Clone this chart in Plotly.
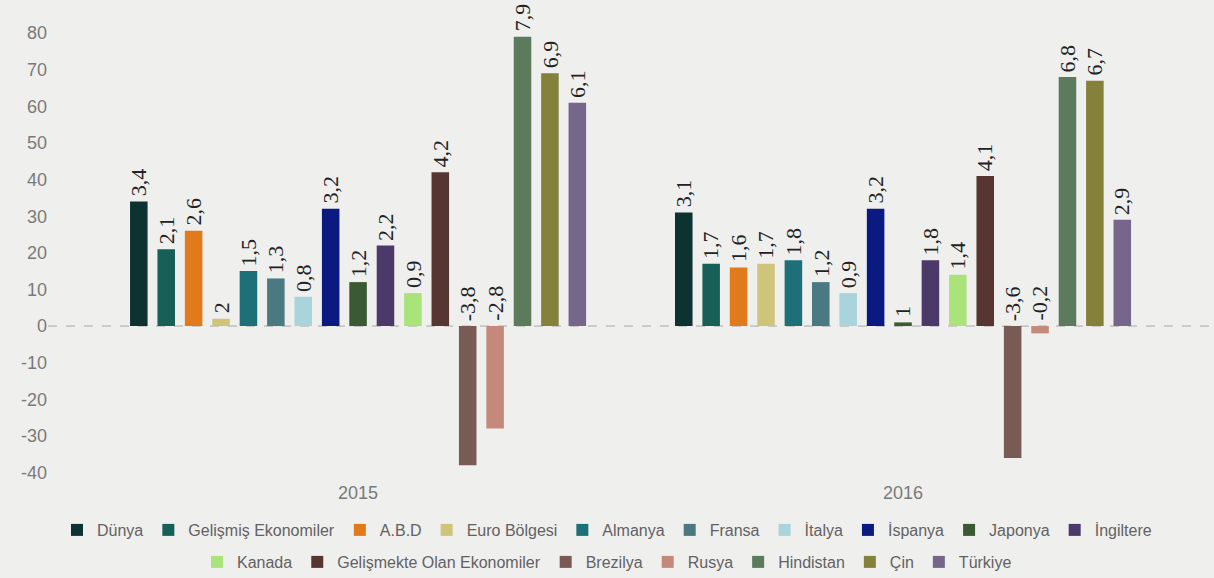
import plotly.graph_objects as go

years = ["2015", "2016"]
series = ["Dünya", "Gelişmiş Ekonomiler", "A.B.D", "Euro Bölgesi", "Almanya", "Fransa",
          "İtalya", "İspanya", "Japonya", "İngiltere", "Kanada", "Gelişmekte Olan Ekonomiler",
          "Brezilya", "Rusya", "Hindistan", "Çin", "Türkiye"]
colors = ["#0c3330", "#175f57", "#e07a1b", "#cfc57a", "#1d6f78", "#4a7982",
          "#a9d4dc", "#0a1a80", "#3b5a33", "#4b3a69", "#a9e37a", "#573533",
          "#785b54", "#c4897b", "#5c7b5c", "#85803a", "#77668c"]
values_2015 = [34, 21, 26, 2, 15, 13, 8, 32, 12, 22, 9, 42, -38, -28, 79, 69, 61]
values_2016 = [31, 17, 16, 17, 18, 12, 9, 32, 1, 18, 14, 41, -36, -2, 68, 67, 29]
labels_2015 = ["3,4", "2,1", "2,6", "2", "1,5", "1,3", "0,8", "3,2", "1,2", "2,2", "0,9",
               "4,2", "-3,8", "-2,8", "7,9", "6,9", "6,1"]
labels_2016 = ["3,1", "1,7", "1,6", "1,7", "1,8", "1,2", "0,9", "3,2", "1", "1,8", "1,4",
               "4,1", "-3,6", "-0,2", "6,8", "6,7", "2,9"]
y_ticks = [-40, -30, -20, -10, 0, 10, 20, 30, 40, 50, 60, 70, 80]
y_tick_text = ["-40", "-30", "-20", "-10", "0", "10", "20", "30", "40", "50", "60", "70", "80"]

BARGAP = 0.145
BARGROUPGAP = 0.36
n = len(series)

fig = go.Figure()
for i, name in enumerate(series):
    fig.add_trace(go.Bar(
        x=years, y=[values_2015[i], values_2016[i]], name=name,
        marker=dict(color=colors[i], line=dict(width=0)),
        legend="legend" if i < 10 else "legend2",
        hoverinfo="skip",
    ))

annotations = []
slot = (1 - BARGAP) / n
for i in range(n):
    for g, (vals, labs) in enumerate([(values_2015, labels_2015), (values_2016, labels_2016)]):
        annotations.append(dict(
            x=g + (i - (n - 1) / 2) * slot, y=max(vals[i], 0), xref="x", yref="y",
            text=labs[i], textangle=-90, showarrow=False,
            xanchor="center", yanchor="bottom", yshift=3,
            font=dict(family="Liberation Serif, serif", size=22, color="#222222"),
        ))

bg = "#efefee"
legend_font = dict(family="Liberation Sans, Arial", size=16, color="#626262")
fig.update_layout(
    width=1214, height=578,
    paper_bgcolor=bg, plot_bgcolor=bg,
    margin=dict(l=48, r=2, t=10, b=93),
    barmode="group", bargap=BARGAP, bargroupgap=BARGROUPGAP,
    xaxis=dict(type="category", range=[-0.569, 1.567], showgrid=False, showline=False,
               ticks="", ticklabelstandoff=-5,
               tickfont=dict(family="Liberation Sans, Arial", size=18, color="#7a7a7a")),
    yaxis=dict(range=[-43.4, 86.3], tickvals=y_ticks, ticktext=y_tick_text, showgrid=False,
               zeroline=False, showline=False, ticks="",
               tickfont=dict(family="Liberation Sans, Arial", size=18, color="#7a7a7a")),
    shapes=[dict(type="line", xref="paper", yref="y", x0=0, x1=1, y0=0, y1=0,
                 line=dict(color="#a8a8a8", width=1, dash="dash"), layer="below")],
    annotations=annotations,
    legend=dict(orientation="h", xref="container", yref="container", x=0.5, y=1 - 530 / 578,
                xanchor="center", yanchor="middle", bgcolor="rgba(0,0,0,0)",
                font=legend_font, itemclick=False, tracegroupgap=0),
    legend2=dict(orientation="h", xref="container", yref="container", x=0.5, y=1 - 562 / 578,
                 xanchor="center", yanchor="middle", bgcolor="rgba(0,0,0,0)",
                 font=legend_font, itemclick=False, tracegroupgap=0),
    showlegend=True,
)

fig.write_html("out.html", config={"displayModeBar": False},
               post_script="document.body.style.margin='0';document.body.style.background='#efefee';")
